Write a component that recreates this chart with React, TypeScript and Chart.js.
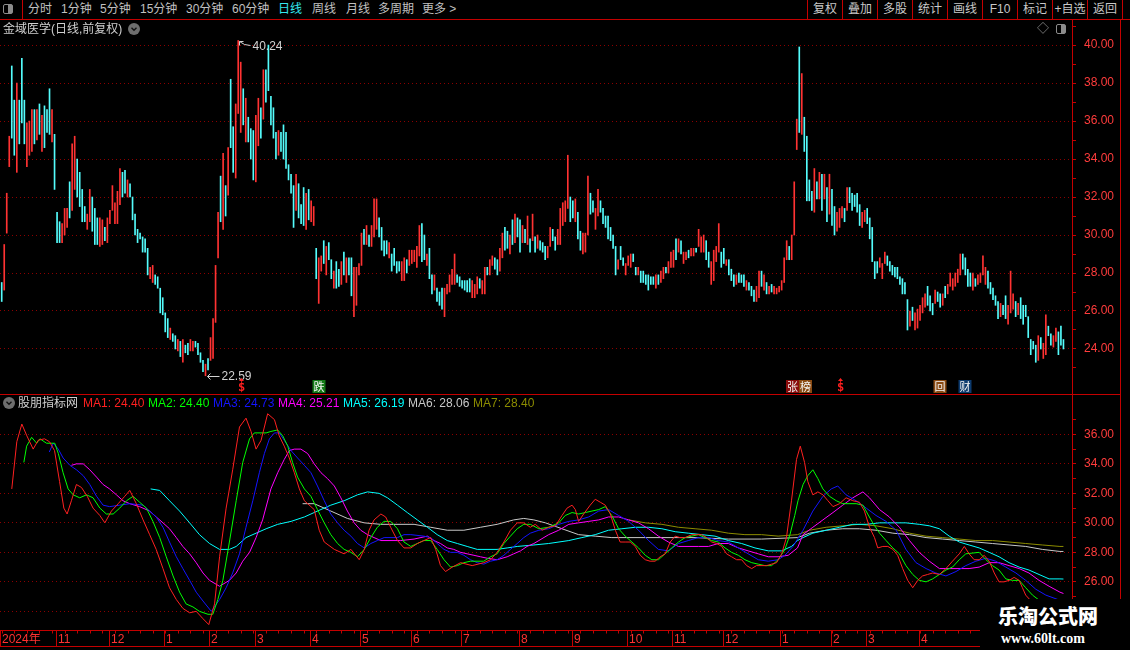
import React, { useEffect, useRef } from 'react';
import { Chart, registerables } from 'chart.js';

Chart.register(...registerables);
Chart.defaults.font.family = '"Liberation Sans", Arial, sans-serif';

// 日K 最高价（估读）
const highs = [
  27.5, 29.5, 32.2, 35.2, 38.9, 37.1, 38.0, 37.1, 39.3, 37.1,
  35.9, 36.0, 36.6, 36.6, 36.6, 36.9, 36.3, 36.8, 36.6, 37.7,
  36.6, 35.3, 31.2, 30.7, 30.6, 31.4, 31.4, 32.8, 34.8, 35.2,
  34.0, 33.3, 32.4, 31.5, 31.1, 32.4, 32.0, 31.4, 30.9, 30.9,
  30.8, 30.4, 30.9, 31.3, 32.6, 31.7, 32.3, 33.5, 33.3, 33.4,
  32.9, 32.7, 32.0, 31.1, 30.3, 30.1, 29.9, 29.8, 29.3, 28.3,
  28.4, 27.9, 27.8, 27.2, 26.7, 25.9, 25.6, 25.1, 24.8, 24.7,
  24.5, 24.4, 24.5, 24.2, 24.3, 24.5, 24.4, 24.4, 24.3, 23.8,
  23.4, 23.2, 23.5, 24.6, 25.6, 28.4, 31.2, 33.1, 34.3, 32.6,
  34.6, 38.2, 35.7, 36.9, 40.24, 39.1, 37.7, 37.2, 36.2, 35.6,
  35.5, 36.3, 37.2, 36.7, 38.7, 38.7, 40.0, 37.3, 36.7, 35.4,
  35.5, 35.4, 35.8, 35.4, 33.7, 33.2, 32.6, 33.2, 32.7, 31.6,
  32.5, 32.2, 32.4, 31.8, 31.5, 29.3, 28.8, 28.9, 29.7, 29.4,
  29.6, 28.7, 28.1, 28.6, 28.2, 28.6, 29.1, 28.8, 28.8, 28.8,
  28.3, 28.3, 28.5, 30.1, 30.3, 30.5, 30.0, 30.5, 31.9, 31.9,
  30.9, 30.4, 29.7, 29.7, 29.6, 29.0, 29.3, 28.6, 28.6, 28.6,
  28.8, 28.7, 29.2, 29.2, 29.2, 29.4, 30.5, 30.6, 30.0, 29.0,
  29.3, 27.9, 27.9, 27.2, 27.0, 27.2, 27.2, 27.4, 27.9, 28.2,
  29.0, 27.9, 27.8, 27.6, 27.6, 27.6, 27.7, 27.6, 27.4, 27.8,
  27.7, 27.6, 28.3, 28.3, 28.7, 28.9, 28.8, 28.7, 29.3, 30.1,
  30.4, 30.2, 30.0, 30.8, 31.1, 30.9, 30.8, 30.5, 30.3, 31.0,
  29.8, 31.1, 29.9, 30.0, 29.7, 29.6, 29.4, 29.4, 30.4, 30.3,
  29.9, 30.3, 31.4, 31.7, 31.8, 34.2, 32.0, 31.8, 31.9, 31.2,
  30.2, 30.1, 30.1, 33.1, 32.2, 31.8, 31.4, 32.4, 31.8, 31.4,
  31.0, 31.0, 30.4, 30.0, 29.4, 28.7, 29.4, 28.8, 28.5, 28.9,
  29.0, 29.0, 28.3, 28.3, 28.1, 28.1, 27.9, 27.9, 27.8, 27.8,
  27.9, 27.9, 28.1, 28.3, 28.3, 28.6, 29.1, 29.2, 29.8, 29.8,
  29.7, 29.1, 29.1, 29.2, 29.3, 29.3, 29.3, 30.3, 29.9, 30.0,
  29.7, 29.1, 28.6, 29.2, 29.4, 30.6, 29.1, 29.3, 28.7, 28.7,
  28.2, 27.9, 27.9, 28.0, 27.9, 27.9, 27.6, 27.5, 27.3, 27.1,
  27.3, 28.1, 28.1, 27.9, 27.5, 27.3, 27.4, 27.3, 27.2, 27.3,
  27.6, 28.8, 29.7, 29.4, 30.0, 32.8, 36.1, 39.9, 38.5,
  36.2, 35.2, 32.9, 32.3, 33.5, 32.8, 33.3, 33.2, 33.2, 32.5,
  33.2, 32.4, 31.5, 31.2, 31.4, 31.5, 31.4, 32.5, 32.5, 32.2,
  32.1, 32.2, 31.6, 31.2, 31.3, 31.4, 30.9, 30.4, 28.6, 28.6,
  28.8, 28.5, 29.1, 28.9, 28.6, 28.4, 28.3, 28.3, 27.8, 27.7,
  27.5, 26.6, 26.0, 26.2, 25.9, 26.1, 26.3, 26.7, 26.9, 27.3,
  26.8, 26.4, 27.1, 27.0, 26.9, 26.9, 27.3, 27.4, 28.0, 27.7,
  28.0, 28.2, 29.0, 29.0, 28.8, 28.2, 28.0, 28.0, 27.7, 27.9,
  28.0, 28.9, 28.3, 28.1, 27.5, 27.2, 26.8, 26.5, 26.4, 26.3,
  26.8, 26.3, 28.1, 26.9, 26.5, 26.4, 26.7, 26.3, 26.3, 25.7,
  24.5, 24.4, 24.2, 24.7, 24.6, 24.3, 25.8, 25.2, 24.8, 24.7,
  25.1, 24.9, 25.2, 24.5,
];

// 日K 最低价（估读）
const lows = [
  26.5, 27.1, 30.1, 33.6, 35.1, 34.2, 33.3, 34.8, 35.9, 34.8,
  33.6, 34.2, 34.4, 34.8, 35.0, 35.3, 34.4, 34.6, 35.4, 35.3,
  34.9, 32.4, 29.6, 29.6, 29.6, 30.0, 30.4, 30.9, 31.3, 32.4,
  32.0, 31.5, 30.7, 30.7, 30.3, 30.7, 30.2, 29.5, 29.5, 29.4,
  29.5, 29.7, 29.6, 30.6, 31.3, 30.6, 30.6, 31.6, 32.0, 32.2,
  32.0, 32.0, 30.8, 30.0, 29.6, 29.8, 29.1, 29.1, 27.9, 27.7,
  27.5, 27.4, 27.2, 25.9, 25.8, 24.9, 24.6, 24.5, 24.4, 24.0,
  23.9, 23.6, 23.3, 23.8, 23.7, 23.9, 23.9, 24.1, 23.7, 23.3,
  22.8, 22.59, 22.9, 23.4, 23.5, 25.4, 28.8, 30.7, 30.3, 31.0,
  32.1, 34.6, 33.3, 33.0, 36.4, 35.4, 35.8, 34.9, 34.9, 34.0,
  32.9, 32.8, 34.7, 35.1, 36.1, 37.0, 37.6, 35.8, 35.1, 34.0,
  34.2, 34.4, 34.0, 33.5, 32.9, 32.2, 30.4, 31.3, 30.9, 30.6,
  30.5, 30.3, 30.8, 30.7, 30.5, 27.7, 26.4, 28.1, 28.5, 27.9,
  28.7, 27.7, 27.2, 27.2, 27.3, 27.4, 27.9, 27.5, 27.9, 26.8,
  25.7, 26.3, 27.9, 28.4, 29.5, 29.5, 29.4, 29.4, 29.9, 30.3,
  29.9, 29.2, 28.9, 29.0, 28.8, 28.1, 28.4, 28.0, 28.1, 27.6,
  27.6, 28.0, 28.4, 28.5, 28.6, 28.3, 28.9, 28.6, 28.7, 28.4,
  27.7, 26.9, 27.1, 26.5, 26.3, 26.1, 25.7, 26.9, 27.0, 27.4,
  27.4, 27.5, 27.3, 27.2, 27.1, 27.0, 27.0, 26.7, 26.7, 26.9,
  27.2, 26.9, 26.9, 27.9, 27.9, 28.4, 28.2, 27.9, 28.1, 28.8,
  29.2, 29.3, 29.0, 29.5, 29.6, 29.9, 29.1, 29.6, 29.6, 29.5,
  29.1, 29.7, 29.1, 29.3, 29.2, 29.1, 28.7, 28.8, 29.4, 29.7,
  29.2, 29.5, 29.5, 30.5, 30.7, 31.4, 30.7, 30.9, 30.7, 29.8,
  29.2, 29.0, 29.1, 30.0, 31.1, 31.2, 30.3, 31.0, 31.2, 30.6,
  30.4, 29.8, 29.7, 29.3, 27.9, 28.2, 28.7, 28.4, 27.9, 28.4,
  28.3, 28.6, 27.9, 27.9, 27.5, 27.5, 27.4, 27.1, 27.4, 27.4,
  27.2, 27.4, 27.5, 27.7, 28.0, 28.0, 28.3, 28.3, 28.7, 29.1,
  29.0, 28.5, 28.7, 28.8, 28.9, 28.9, 29.1, 29.4, 29.1, 29.1,
  28.7, 28.3, 27.4, 27.6, 28.6, 29.1, 28.3, 28.5, 28.4, 27.9,
  27.6, 27.3, 27.4, 27.5, 27.5, 27.3, 27.1, 27.1, 26.8, 26.5,
  26.5, 26.7, 27.3, 27.1, 26.9, 26.9, 27.0, 26.9, 26.9, 27.0,
  27.1, 27.5, 28.7, 28.7, 28.7, 30.0, 34.5, 35.4, 35.3,
  34.4, 31.8, 31.8, 31.3, 31.2, 31.9, 31.9, 31.3, 31.9, 30.7,
  31.1, 30.5, 30.0, 30.2, 30.4, 30.9, 30.7, 31.3, 31.7, 31.3,
  31.5, 31.2, 30.5, 30.4, 30.7, 30.6, 29.8, 28.6, 27.7, 28.0,
  28.3, 27.7, 28.5, 28.4, 28.1, 27.9, 27.8, 27.7, 27.4, 26.9,
  26.9, 25.0, 25.2, 25.5, 25.0, 25.1, 25.5, 25.9, 26.2, 26.3,
  26.0, 25.8, 26.4, 26.5, 26.2, 26.3, 26.7, 26.9, 27.3, 27.1,
  27.3, 27.5, 27.9, 28.2, 27.9, 27.3, 27.3, 27.1, 27.3, 27.4,
  27.5, 27.9, 27.4, 27.2, 26.9, 26.6, 26.3, 25.6, 25.7, 25.8,
  25.6, 25.3, 25.9, 26.1, 25.7, 25.8, 25.6, 25.3, 25.7, 24.6,
  23.7, 24.0, 23.3, 23.4, 24.0, 23.5, 23.7, 24.7, 24.2, 24.1,
  24.4, 23.7, 24.2, 24.0,
];

// r = 阳线(红)  c = 阴线(青)
const candleTone =
  'crrrccrccc' + 'rrrcrcrccc' + 'rcccrrrcrr' + 'ccccrrcccr' + 'rcrrrrrrcc' +
  'rccccccccr' + 'rccccccrcc' + 'rcrccrrccc' + 'crcrrrrcrc' + 'rccrrrcrcc' +
  'crrcrccccc' + 'rccccccrcc' + 'crcrrcrrcr' + 'ccrccrcrcc' + 'rrrrcrcrrr' +
  'ccccrccccr' + 'rcrrrrrccr' + 'ccrcccrrrr' + 'rccccccrrr' + 'crrcrrccrr' +
  'ccrcrccrcr' + 'crcrcccrrc' + 'crrrrrccrc' + 'crrrccrrcc' + 'cccccrccrr' +
  'rccrcccccc' + 'rcrrcrrrcr' + 'crrcrrcrrr' + 'ccrrrrccrc' + 'ccrcccrccc' +
  'rrcrcrcrrr' + 'rrrcrrrcr' + 'ccccrcrcrc' + 'rccrrrcrcc' + 'cccrrccccc' +
  'rrrccccccc' + 'ccrcrrrrrc' + 'ccrccrcrrr' + 'rrrccccrcr' + 'rrrcccccrc' +
  'crrrcrcccc' + 'cccrcrrccr' + 'rccc';
const rise = candleTone.split('').map((c) => c === 'r');

// 月份分隔（K线序号）
const monthLabels = ['11', '12', '1', '2', '3', '4', '5', '6', '7', '8', '9', '10', '11', '12', '1', '2', '3', '4'];
const monthStarts = [22, 43, 65, 83, 101, 123, 143, 163, 183, 206, 227, 249, 267, 287, 310, 330, 344, 365];

const priceTicks = [23, 24, 25, 26, 27, 28, 29, 30, 31, 32, 33, 34, 35, 36, 37, 38, 39, 40, 41];
const indicatorTicks = [23, 24, 25, 26, 27, 28, 29, 30, 31, 32, 33, 34, 35, 36, 37];

// 股朋指标网 MA1..MA7，[K线序号, 数值]
const ma1 = [
  [4, 32.3], [6, 35.5], [8, 36.7], [10, 35.9], [12.5, 35.0], [14.5, 35.6], [17, 35.7], [19, 35.5], [21, 34.9], [23, 32.8],
  [24.7, 31.0], [26, 30.6], [27.7, 31.5], [29.7, 32.6], [31.7, 32.4], [34, 31.8], [36.3, 31.0], [39, 30.5], [41, 30.0], [43.6, 30.8],
  [46.3, 31.3], [48.9, 31.8], [50.9, 32.2], [53.5, 31.3], [56.2, 30.2], [58.8, 29.2], [61.4, 28.2], [64.1, 26.9], [66.7, 25.6], [69.4, 24.8],
  [72, 24.2], [74.7, 23.9], [77.3, 24.0], [80, 23.5], [82.3, 23.1], [84.6, 24.5], [86.6, 27.7], [89.2, 31.0], [91.8, 33.6], [94.5, 36.5],
  [97.1, 37.1], [99.1, 36.2], [101.1, 35.0], [103.1, 35.6], [105.7, 37.4], [108.4, 37.0], [110.3, 35.9], [112.3, 35.2], [114.3, 34.4], [116.3, 33.4],
  [118.3, 32.3], [120.3, 31.5], [124.2, 30.9], [126.2, 29.5], [128.2, 28.7], [132.2, 28.2], [136.1, 27.9], [138.8, 28.2], [142.1, 27.5], [144.1, 28.2],
  [146, 29.5], [148, 30.2], [150.7, 30.6], [152.6, 30.4], [154.6, 29.7], [157.3, 28.8], [159.9, 28.3], [162.6, 28.3], [165.2, 28.6], [167.8, 28.8],
  [170.5, 29.0], [172.5, 28.2], [174.4, 27.1], [176.4, 26.7], [179.1, 27.0], [182.4, 27.3], [187, 27.1], [191.6, 27.3], [194.3, 27.5], [196.9, 28.0],
  [199.6, 28.7], [202.2, 29.5], [204.9, 30.0], [207.5, 30.0], [210.1, 29.7], [212.1, 29.9], [214.8, 29.5], [217.4, 29.7], [220.1, 29.8], [222.7, 30.5],
  [224.7, 31.0], [226.7, 31.2], [228, 30.9], [229.3, 30.1], [231.3, 30.6], [233.9, 31.2], [235.9, 31.6], [237.9, 31.4], [239.9, 31.2], [241.9, 30.6],
  [243.9, 29.5], [245.8, 28.7], [247.8, 28.7], [249.8, 28.7], [251.8, 28.4], [253.8, 27.8], [255.8, 27.5], [257.7, 27.4], [259.7, 27.4], [261.7, 27.7],
  [263.7, 27.9], [265.7, 28.7], [267.7, 29.1], [269.6, 29.0], [271.6, 29.0], [274.3, 29.2], [276.2, 29.2], [278.2, 29.2], [280.2, 29.0], [282.2, 28.7],
  [284.2, 28.6], [286.2, 28.4], [288.1, 27.9], [290.1, 27.7], [292.1, 27.5], [294.1, 27.5], [296.1, 27.1], [298.1, 26.9], [300, 27.1], [304, 27.1],
  [308, 27.3], [310, 27.9], [311.9, 29.0], [313.9, 31.5], [315.9, 34.3], [317.4, 35.2], [319.1, 34.1], [320.4, 32.8], [322.4, 31.9], [324.4, 32.1],
  [326.4, 31.9], [328.4, 31.5], [330.4, 31.1], [333, 31.3], [335.6, 31.7], [338.3, 31.5], [340.9, 31.4], [342.9, 30.8], [344.9, 29.7], [346.9, 29.0],
  [348.2, 28.3], [350.2, 28.4], [352.2, 28.4], [354.2, 28.2], [356.1, 27.8], [358.1, 26.9], [360.1, 26.1], [362.1, 25.6], [364.1, 26.1], [366, 26.4],
  [368, 26.5], [370, 26.6], [372.7, 26.5], [375.3, 26.9], [377.9, 27.4], [380.6, 27.9], [382.6, 28.4], [384.5, 27.9], [386.5, 27.5], [388.5, 27.5],
  [390.5, 27.8], [392.5, 27.4], [394.5, 26.6], [396.4, 26.0], [398.4, 26.0], [400.4, 26.1], [402.4, 26.3], [404.4, 26.1], [405.7, 25.6], [407, 25.1],
  [408.6, 24.8], [412, 24.3], [416, 24.1], [422, 24.4],
];

const ma2 = [
  [8.8, 34.1], [9.9, 35.2], [11.9, 35.8], [13.9, 35.4], [15.2, 35.7], [17.8, 35.4], [21.1, 35.4], [22.5, 34.7], [24.4, 33.4], [26.4, 32.3],
  [28.4, 31.9], [31, 31.7], [33.7, 31.9], [36.3, 31.7], [39, 31.0], [41.6, 30.6], [44.3, 30.6], [46.9, 31.0], [49.6, 31.5], [52.2, 31.8],
  [54.8, 31.4], [57.5, 31.0], [60.1, 30.1], [62.8, 29.0], [65.4, 27.7], [68.1, 26.4], [70.7, 25.3], [73.3, 24.5], [76, 24.3], [78.6, 24.0],
  [82, 23.8], [83.9, 23.8], [85.9, 24.8], [87.9, 26.1], [90.5, 28.7], [93.2, 31.5], [95.8, 34.1], [98.5, 35.7], [100.4, 36.1], [105.1, 36.1],
  [107, 36.2], [109.7, 36.3], [111.7, 35.9], [113.7, 35.2], [115.6, 34.1], [117.6, 33.1], [120.3, 32.3], [122.9, 31.8], [125.5, 30.9], [128.2, 30.0],
  [130.8, 29.2], [133.5, 28.6], [136.1, 28.2], [138.8, 28.0], [141.4, 27.7], [144.1, 28.2], [146.7, 29.0], [149.3, 29.7], [152, 30.1], [154.6, 30.1],
  [157.3, 29.6], [159.9, 28.7], [162.6, 28.4], [165.2, 28.6], [167.8, 28.8], [170.5, 28.8], [173.1, 28.2], [175.8, 27.5], [178.4, 27.0], [181.1, 27.1],
  [183.7, 27.3], [186.3, 27.4], [191.6, 27.4], [194.3, 27.7], [196.9, 27.9], [199.6, 28.6], [202.2, 29.1], [204.9, 29.6], [207.5, 29.9], [210.1, 29.9],
  [213.5, 29.6], [217.4, 29.7], [221.4, 30.0], [224, 30.5], [226.7, 30.7], [229.3, 30.6], [232, 30.7], [234.6, 30.8], [237.3, 30.9], [239.9, 31.1],
  [242.5, 30.5], [245.2, 29.6], [247.8, 29.1], [250.5, 28.7], [253.1, 28.3], [255.8, 27.8], [258.4, 27.5], [261, 27.5], [263.7, 27.9], [266.3, 28.3],
  [269, 28.7], [271.6, 29.0], [274.3, 29.1], [276.9, 29.2], [279.5, 29.0], [282.2, 28.8], [284.8, 28.7], [287.5, 28.3], [290.1, 28.0], [292.8, 27.8],
  [295.4, 27.5], [298.1, 27.3], [300.7, 27.2], [303.3, 27.1], [306, 27.1], [308.6, 27.5], [311.3, 28.2], [313.3, 29.2], [315.2, 30.5], [316.5, 31.5],
  [318.5, 32.6], [320.4, 33.2], [322.4, 33.6], [324.4, 33.0], [326.4, 32.3], [329, 31.8], [331.7, 31.5], [334.3, 31.3], [339.6, 31.3], [342.3, 31.2],
  [344.2, 30.6], [346.2, 30.0], [348.9, 29.3], [351.5, 28.8], [354.2, 28.3], [356.8, 27.9], [359.4, 27.1], [362.1, 26.5], [364.7, 26.1], [367.4, 26.0],
  [370, 26.2], [372.7, 26.5], [375.3, 26.8], [377.9, 27.0], [380.6, 27.5], [383.2, 27.9], [388.5, 28.0], [391.2, 27.5], [393.8, 27.1], [396.4, 26.8],
  [399.1, 26.2], [401.7, 26.1], [404.4, 26.1], [407, 25.6], [409.7, 25.1], [412, 24.8], [416, 24.5], [422, 24.4],
];

const ma3 = [
  [18.9, 34.8], [20.5, 35.4], [22.5, 35.0], [24.4, 34.4], [27.1, 33.9], [29.7, 33.6], [32.4, 33.2], [35, 32.6], [37.7, 31.8], [40.3, 31.2],
  [42.9, 31.1], [46.9, 31.2], [50.9, 31.3], [56.2, 31.2], [58.8, 30.8], [61.4, 30.4], [64.1, 29.7], [66.7, 28.7], [69.4, 27.7], [72, 26.9],
  [74.7, 26.1], [77.3, 25.3], [80, 24.7], [83.3, 24.0], [86.6, 24.8], [89.2, 25.6], [91.8, 26.6], [94.5, 27.9], [97.1, 29.7], [99.8, 31.5],
  [102.4, 33.4], [104.4, 34.7], [106.4, 35.7], [108.4, 36.1], [110.3, 36.1], [112.3, 35.6], [115, 34.9], [117.6, 34.4], [120.3, 33.9], [122.9, 33.4],
  [125.5, 32.5], [128.2, 31.5], [130.8, 30.6], [133.5, 30.0], [136.1, 29.5], [138.8, 29.1], [141.4, 28.6], [144.1, 28.3], [146.7, 28.6], [149.3, 28.8],
  [152, 29.0], [157.3, 29.0], [159.9, 29.2], [162.6, 29.2], [167.8, 29.1], [170.5, 29.0], [173.1, 28.6], [175.8, 28.2], [178.4, 28.0], [181.1, 28.0],
  [183.7, 27.8], [186.3, 27.5], [189, 27.3], [191.6, 27.2], [194.3, 27.4], [196.9, 27.5], [199.6, 27.8], [202.2, 28.2], [204.9, 28.6], [207.5, 29.0],
  [210.1, 29.3], [213.5, 29.5], [217.4, 29.6], [221.4, 29.9], [225.4, 30.1], [229.3, 30.2], [233.3, 30.4], [237.3, 30.8], [241.2, 30.9], [245.2, 30.5],
  [249.2, 30.1], [253.1, 29.5], [257.1, 28.8], [261, 28.2], [265, 28.1], [269, 28.6], [272.9, 28.8], [276.9, 29.0], [280.9, 29.0], [284.8, 28.8],
  [288.8, 28.7], [292.8, 28.3], [296.7, 27.9], [300.7, 27.5], [304.7, 27.4], [308.6, 27.5], [311.3, 27.8], [314.5, 28.4], [318.5, 29.5], [322.4, 30.8],
  [326.4, 31.8], [329.7, 32.3], [332.3, 32.5], [335.6, 31.9], [339.6, 31.5], [343.6, 31.0], [347.5, 30.5], [351.5, 30.1], [355.5, 29.5], [359.4, 28.2],
  [363.4, 27.3], [367.4, 26.9], [371.3, 26.6], [375.3, 26.4], [379.3, 26.7], [383.2, 27.1], [387.2, 27.4], [391.2, 27.6], [395.1, 27.4], [399.1, 27.0],
  [403.1, 26.6], [407, 26.1], [411, 25.5], [415, 25.1], [419.8, 24.8], [422, 24.73],
];

const ma4 = [
  [27.7, 33.9], [29.7, 34.0], [32.4, 34.0], [35, 33.6], [37.7, 33.1], [40.3, 32.6], [42.9, 32.3], [45.6, 31.9], [48.2, 31.5], [50.9, 31.3],
  [54.8, 31.1], [58.8, 30.8], [61.4, 30.4], [64.1, 30.0], [66.7, 29.6], [69.4, 29.0], [72, 28.4], [74.7, 27.9], [77.3, 27.3], [80, 26.6],
  [82.6, 26.1], [86.6, 25.7], [90.5, 26.1], [93.2, 26.6], [95.8, 27.4], [98.5, 28.0], [101.1, 29.0], [103.7, 30.2], [107, 32.3], [109.7, 33.4],
  [112.3, 34.3], [114.3, 34.9], [116.3, 35.0], [118.9, 35.0], [121.6, 34.7], [124.2, 34.0], [126.9, 33.4], [129.5, 33.0], [132.2, 32.5], [134.8, 31.7],
  [137.4, 30.8], [140.1, 30.0], [142.7, 29.5], [145.4, 29.2], [148, 29.0], [150.7, 28.8], [158.6, 28.8], [163.9, 28.9], [169.2, 29.1], [171.8, 28.8],
  [174.4, 28.6], [177.1, 28.3], [179.7, 28.2], [182.4, 28.0], [185, 27.9], [187.7, 27.8], [190.3, 27.7], [193, 27.6], [196.9, 27.5], [200.9, 27.7],
  [203.5, 27.9], [206.2, 28.1], [208.8, 28.4], [211.5, 28.6], [213.5, 28.8], [217.4, 29.2], [221.4, 29.5], [225.4, 29.9], [229.3, 30.0], [233.3, 30.1],
  [237.3, 30.2], [241.2, 30.4], [245.2, 30.4], [249.2, 30.2], [253.1, 30.0], [257.1, 29.6], [261, 29.1], [265, 28.7], [269, 28.4], [276.9, 28.4],
  [280.9, 28.4], [284.8, 28.6], [288.8, 28.6], [292.8, 28.3], [296.7, 28.1], [300.7, 27.9], [304.7, 27.7], [308.6, 27.7], [312.6, 27.8], [316.3, 28.3],
  [318.5, 29.2], [322.4, 29.7], [326.4, 30.2], [330.4, 30.7], [334.3, 31.2], [338.3, 31.7], [342.3, 32.1], [344.9, 31.7], [348.9, 30.9], [352.8, 30.4],
  [356.8, 29.7], [360.8, 28.8], [364.7, 28.0], [368.7, 27.4], [372.7, 26.9], [376.6, 26.9], [384.5, 26.9], [388.5, 27.0], [392.5, 27.3], [396.4, 27.3],
  [400.4, 27.1], [404.4, 26.9], [408.3, 26.6], [412.3, 26.1], [416.3, 25.7], [420.6, 25.3], [422, 25.21],
];

const ma5 = [
  [59.2, 32.3], [62.8, 32.2], [66.7, 31.5], [70.7, 30.8], [74.7, 30.0], [78.6, 29.2], [82.6, 28.6], [86.6, 28.2], [90.5, 28.2], [93.2, 28.4],
  [97.1, 29.0], [101.1, 29.3], [105.1, 29.6], [109.7, 29.9], [115, 30.1], [120.3, 30.4], [125.5, 30.8], [130.8, 31.2], [136.1, 31.5], [141.4, 31.9],
  [145.4, 32.1], [150, 32.0], [153.3, 31.7], [157.3, 31.2], [161.2, 30.7], [165.2, 30.2], [169.2, 29.7], [173.1, 29.2], [177.1, 28.8], [181.1, 28.6],
  [185, 28.4], [189, 28.2], [196.9, 28.2], [200.9, 28.3], [204.9, 28.4], [211.5, 28.5], [217.4, 28.6], [225.4, 28.8], [230.6, 29.0], [235.9, 29.2],
  [241.2, 29.5], [246.5, 29.6], [251.8, 29.7], [257.1, 29.7], [262.4, 29.6], [267.7, 29.4], [272.9, 29.3], [278.2, 29.2], [283.5, 29.1], [288.8, 28.8],
  [294.1, 28.6], [299.4, 28.3], [304.7, 28.1], [310, 28.1], [313.9, 28.4], [316.3, 28.8], [318.5, 29.0], [322.4, 29.3], [327.7, 29.5], [333, 29.7],
  [338.3, 29.9], [343.6, 29.9], [348.9, 30.0], [354.2, 30.0], [359.4, 30.0], [364.7, 29.9], [368.7, 29.8], [372.7, 29.6], [376.6, 29.1], [380.6, 28.7],
  [384.5, 28.5], [388.5, 28.3], [392.5, 28.0], [396.4, 27.7], [400.4, 27.3], [404.4, 27.0], [408.3, 26.8], [412.3, 26.5], [416.3, 26.2], [420.6, 26.2],
  [422, 26.19],
];

const ma6 = [
  [119.6, 31.3], [124.2, 31.3], [130.8, 30.8], [137.4, 30.3], [144.1, 30.0], [150.7, 29.9], [163.9, 29.9], [170.5, 29.7], [177.1, 29.5], [183.7, 29.5],
  [190.3, 29.7], [196.9, 29.9], [203.5, 30.2], [207.5, 30.3], [211.5, 30.2], [216.1, 30.0], [222.7, 29.6], [229.3, 29.2], [235.9, 29.1], [242.5, 29.0],
  [262.4, 29.0], [275.6, 29.0], [288.8, 28.9], [302, 28.9], [316.3, 29.0], [321.1, 29.3], [327.7, 29.5], [334.3, 29.6], [340.9, 29.6], [347.5, 29.5],
  [354.2, 29.3], [360.8, 29.2], [367.4, 29.0], [374, 28.9], [380.6, 28.8], [387.2, 28.7], [393.8, 28.6], [400.4, 28.5], [407, 28.4], [413.6, 28.2],
  [420.6, 28.06], [422, 28.06],
];

const ma7 = [
  [249.2, 30.2], [255.8, 30.0], [262.4, 29.9], [269, 29.7], [275.6, 29.6], [282.2, 29.5], [288.8, 29.3], [295.4, 29.2], [302, 29.2], [308.6, 29.1],
  [316.3, 29.2], [321.1, 29.5], [327.7, 29.7], [334.3, 29.8], [340.9, 29.9], [347.5, 29.8], [354.2, 29.6], [360.8, 29.3], [367.4, 29.1], [374, 29.0],
  [380.6, 28.9], [387.2, 28.8], [393.8, 28.8], [400.4, 28.7], [407, 28.6], [413.6, 28.5], [420.6, 28.4], [422, 28.40],
];

const maSeries = [
  { name: 'MA1', color: '#ff2020', data: ma1 },
  { name: 'MA2', color: '#00ff00', data: ma2 },
  { name: 'MA3', color: '#1414ff', data: ma3 },
  { name: 'MA4', color: '#ff00ff', data: ma4 },
  { name: 'MA5', color: '#00ffff', data: ma5 },
  { name: 'MA6', color: '#c8c8c8', data: ma6 },
  { name: 'MA7', color: '#8c8c00', data: ma7 },
];

// 信息地雷标记（K线序号）
const markers = [
  { i: 95, text: '$', bg: [] as string[] },
  { i: 126, text: '跌', bg: ['#137a17'] },
  { i: 317, text: '张榜', bg: ['#8a0c0c', '#8a4a12'] },
  { i: 333, text: '$', bg: [] as string[] },
  { i: 373, text: '回', bg: ['#8a4a12'] },
  { i: 383, text: '财', bg: ['#0c3a6e'] },
];

const UP = '#ff3232';
const DOWN = '#54fcfc';
const AXIS_RED = '#c40000';
const GRID_RED = '#8c0000';
const LABEL_RED = '#ff3c3c';
const X_MIN = -0.68;
const X_MAX = 425.4;

const sideAxis = (min: number, max: number, ticks: number[], lo: number, hi: number) => ({
  position: 'right' as const,
  min,
  max,
  afterBuildTicks: (s: any) => {
    s.ticks = ticks.map((v) => ({ value: v }));
  },
  afterFit: (s: any) => {
    s.width = 58;
    s.paddingTop = 0;
    s.paddingBottom = 0;
  },
  border: { color: AXIS_RED, width: 1, dash: [1, 3] },
  grid: {
    color: (c: any) =>
      c.tick && c.tick.value % 2 === 0 && c.tick.value >= lo && c.tick.value <= hi ? GRID_RED : 'rgba(0,0,0,0)',
    tickColor: AXIS_RED,
    tickLength: 4,
    tickBorderDash: [],
  },
  ticks: {
    color: LABEL_RED,
    font: { size: 12 },
    padding: 8,
    autoSkip: false,
    callback: (v: any) => (v % 2 === 0 && v >= lo && v <= hi ? Number(v).toFixed(2) : ''),
  },
});

const xAxis = { type: 'linear' as const, min: X_MIN, max: X_MAX, offset: false, display: false };

// 最高/最低价标注 + 信息地雷
const priceNotes = {
  id: 'priceNotes',
  afterDatasetsDraw(chart: any) {
    const { ctx, chartArea, scales } = chart;
    const xs = scales.x;
    const ys = scales.y;
    const hiIdx = highs.indexOf(Math.max(...highs));
    const loIdx = lows.indexOf(Math.min(...lows));
    ctx.save();
    ctx.strokeStyle = '#d2d2d2';
    ctx.fillStyle = '#d2d2d2';
    ctx.lineWidth = 1;
    ctx.font = '12px "Liberation Sans", Arial';
    ctx.textBaseline = 'middle';

    let px = Math.round(xs.getPixelForValue(hiIdx)) + 0.5;
    let py = Math.round(ys.getPixelForValue(highs[hiIdx])) + 0.5;
    ctx.beginPath();
    ctx.moveTo(px + 1, py);
    ctx.lineTo(px + 5, py);
    ctx.moveTo(px + 1, py);
    ctx.lineTo(px + 1, py + 4);
    ctx.moveTo(px + 1, py);
    ctx.lineTo(px + 6, py + 3);
    ctx.lineTo(px + 12, py + 4);
    ctx.stroke();
    ctx.fillText(highs[hiIdx].toFixed(2), px + 14, py + 5);

    px = Math.round(xs.getPixelForValue(loIdx)) + 0.5;
    py = Math.round(ys.getPixelForValue(lows[loIdx])) + 0.5;
    ctx.beginPath();
    ctx.moveTo(px + 1, py);
    ctx.lineTo(px + 13, py);
    ctx.moveTo(px + 1, py);
    ctx.lineTo(px + 4, py - 3);
    ctx.moveTo(px + 1, py);
    ctx.lineTo(px + 4, py + 3);
    ctx.stroke();
    ctx.fillText(lows[loIdx].toFixed(2), px + 15, py);

    const cy = chartArea.bottom - 8;
    markers.forEach((m) => {
      const cx = Math.round(xs.getPixelForValue(m.i));
      if (m.bg.length === 0) {
        ctx.fillStyle = '#ff2020';
        ctx.font = 'bold 12px "DejaVu Sans Mono", monospace';
        ctx.textAlign = 'center';
        ctx.fillText(m.text, cx + 0.5, cy + 2);
        ctx.beginPath();
        ctx.moveTo(cx - 2, cy - 5);
        ctx.lineTo(cx + 0.5, cy - 8);
        ctx.lineTo(cx + 3, cy - 5);
        ctx.closePath();
        ctx.fill();
        return;
      }
      const chars = m.text.split('');
      const w = 13;
      const left = cx - (w * chars.length) / 2;
      chars.forEach((ch, k) => {
        ctx.fillStyle = m.bg[k];
        ctx.fillRect(left + k * w, cy - 6, w, 13);
        ctx.fillStyle = '#f4f4f4';
        ctx.font = '11px "Noto Sans CJK SC"';
        ctx.textAlign = 'center';
        ctx.fillText(ch, left + k * w + w / 2, cy + 1);
      });
    });
    ctx.restore();
  },
};

// 底部日期轴
const dateAxis = {
  id: 'dateAxis',
  afterDraw(chart: any) {
    const { ctx, chartArea, scales } = chart;
    const xs = scales.x;
    const top = Math.round(chartArea.bottom) + 2.5;
    const h = 16;
    ctx.save();
    ctx.strokeStyle = AXIS_RED;
    ctx.lineWidth = 1;
    ctx.beginPath();
    ctx.moveTo(0, top);
    ctx.lineTo(chartArea.right, top);
    ctx.moveTo(0, top + h);
    ctx.lineTo(chartArea.right, top + h);
    ctx.moveTo(0.5, top);
    ctx.lineTo(0.5, top + h);
    for (let i = 0; i < highs.length; i += 5) {
      const px = Math.round(xs.getPixelForValue(i)) + 0.5;
      ctx.moveTo(px, top);
      ctx.lineTo(px, top + 3);
    }
    monthStarts.forEach((m) => {
      const px = Math.round(xs.getPixelForValue(m - 0.5)) + 0.5;
      ctx.moveTo(px, top);
      ctx.lineTo(px, top + h);
    });
    ctx.stroke();
    ctx.fillStyle = '#ff3232';
    ctx.font = '12px "Liberation Sans", "Noto Sans CJK SC"';
    ctx.textBaseline = 'middle';
    ctx.fillText('2024年', 2, top + h / 2 + 1);
    monthStarts.forEach((m, k) => {
      ctx.fillText(monthLabels[k], Math.round(xs.getPixelForValue(m - 0.5)) + 2, top + h / 2 + 1);
    });
    ctx.restore();
  },
};

const periodTabs = ['分时', '1分钟', '5分钟', '15分钟', '30分钟', '60分钟', '日线', '周线', '月线', '多周期', '更多 >'];
const periodLefts = [28, 61, 100, 140, 186, 232, 278, 312, 346, 378, 422];
const toolButtons = ['复权', '叠加', '多股', '统计', '画线', 'F10', '标记', '+自选', '返回'];

const FONT = '"Liberation Sans", "Noto Sans CJK SC", sans-serif';

const PanelIcon: React.FC<{ left: number; top: number }> = ({ left, top }) => (
  <div
    style={{
      position: 'absolute', left, top, width: 8, height: 8, border: '1px solid #8c8c8c', borderRadius: 2,
      background: 'linear-gradient(90deg, transparent 50%, #8c8c8c 50%)',
    }}
  />
);

const DotMenu: React.FC<{ left: number; top: number }> = ({ left, top }) => (
  <svg style={{ position: 'absolute', left, top }} width={12} height={12} viewBox="0 0 12 12">
    <circle cx={6} cy={6} r={6} fill="#6e6e6e" />
    <polyline points="3.5,4.8 6,7.3 8.5,4.8" fill="none" stroke="#111" strokeWidth={1.4} />
  </svg>
);

const App: React.FC = () => {
  const priceRef = useRef<HTMLCanvasElement>(null);
  const maRef = useRef<HTMLCanvasElement>(null);

  useEffect(() => {
    if (!priceRef.current || !maRef.current) return;

    const priceChart = new Chart(priceRef.current, {
      type: 'bar',
      data: {
        datasets: [
          {
            data: highs.map((h, i) => ({ x: i, y: [lows[i], h] })) as any,
            backgroundColor: rise.map((r) => (r ? UP : DOWN)),
            barThickness: 1,
            borderWidth: 0,
          },
        ],
      },
      options: {
        animation: false,
        responsive: false,
        layout: { padding: 0 },
        plugins: { legend: { display: false }, tooltip: { enabled: false } },
        scales: {
          x: xAxis,
          y: sideAxis(21.63, 41.32, priceTicks, 24, 40),
        } as any,
      },
      plugins: [priceNotes],
    });

    const maChart = new Chart(maRef.current, {
      type: 'line',
      data: {
        datasets: maSeries.map((s) => ({
          label: s.name,
          data: s.data.map(([x, y]) => ({ x, y })),
          borderColor: s.color,
          borderWidth: 1,
          pointRadius: 0,
          tension: 0,
        })),
      },
      options: {
        animation: false,
        responsive: false,
        layout: { padding: { top: 0, bottom: 22, left: 0, right: 0 } },
        plugins: { legend: { display: false }, tooltip: { enabled: false } },
        scales: {
          x: xAxis,
          y: sideAxis(22.87, 38.67, indicatorTicks, 24, 36),
        } as any,
      },
      plugins: [dateAxis],
    });

    return () => {
      priceChart.destroy();
      maChart.destroy();
    };
  }, []);

  return (
    <div
      style={{
        position: 'fixed', left: 0, top: 0, width: 1130, height: 650, background: '#000',
        overflow: 'hidden', fontFamily: FONT, fontSize: 12, color: '#c8c8c8',
      }}
    >
      {/* 顶部工具栏 */}
      <div style={{ position: 'absolute', left: 0, top: 19, width: 1130, height: 1, background: AXIS_RED }} />
      <div style={{ position: 'absolute', left: 22, top: 0, width: 1, height: 19, background: AXIS_RED }} />
      <PanelIcon left={3} top={4} />
      {periodTabs.map((t, k) => (
        <div
          key={t}
          style={{
            position: 'absolute', left: periodLefts[k], top: 0, lineHeight: '19px', whiteSpace: 'nowrap',
            color: t === '日线' ? '#35e8f0' : '#c0c0c0',
          }}
        >
          {t}
        </div>
      ))}
      {toolButtons.map((t, k) => (
        <div
          key={t}
          style={{
            position: 'absolute', left: 807 + k * 35, top: 0, width: 35, height: 19, lineHeight: '19px',
            textAlign: 'center', borderLeft: `1px solid ${AXIS_RED}`, color: '#c8c8c8', boxSizing: 'border-box',
          }}
        >
          {t}
        </div>
      ))}
      <div style={{ position: 'absolute', left: 1122, top: 0, width: 1, height: 19, background: AXIS_RED }} />

      <canvas ref={priceRef} width={1130} height={374} style={{ position: 'absolute', left: 0, top: 20 }} />

      {/* 标题行 */}
      <div style={{ position: 'absolute', left: 3, top: 20, lineHeight: '19px', whiteSpace: 'nowrap', color: '#cfcfcf' }}>
        金域医学(日线,前复权)
      </div>
      <DotMenu left={128} top={23} />
      <div style={{ position: 'absolute', left: 1037, top: 20, lineHeight: '19px', color: '#8c8c8c', fontSize: 12 }}>◇</div>
      <PanelIcon left={1056} top={24} />

      <div style={{ position: 'absolute', left: 0, top: 394, width: 1120, height: 1, background: AXIS_RED }} />
      <div style={{ position: 'absolute', left: 1120, top: 20, width: 1, height: 580, background: AXIS_RED }} />

      <canvas ref={maRef} width={1130} height={255} style={{ position: 'absolute', left: 0, top: 395 }} />

      {/* 指标标题行 */}
      <DotMenu left={3} top={397} />
      <div style={{ position: 'absolute', left: 18, top: 395, lineHeight: '17px', fontSize: 12, color: '#cfcfcf' }}>股朋指标网</div>
      {maSeries.map((s, k) => (
        <div
          key={s.name}
          style={{
            position: 'absolute', left: 83 + k * 65, top: 395, lineHeight: '17px', whiteSpace: 'nowrap', color: s.color,
          }}
        >
          {`${s.name}: ${s.data[s.data.length - 1][1].toFixed(2)}`}
        </div>
      ))}

      {/* 水印 */}
      <div style={{ position: 'absolute', left: 980, top: 599, width: 150, height: 51, background: '#000' }}>
        <div
          style={{
            position: 'absolute', left: 18, top: 5, fontSize: 20, lineHeight: '24px', fontWeight: 900,
            color: '#fff', fontFamily: '"Noto Sans CJK SC", sans-serif', whiteSpace: 'nowrap',
          }}
        >
          乐淘公式网
        </div>
        <div
          style={{
            position: 'absolute', left: 21, top: 32, fontSize: 14, lineHeight: '16px', fontWeight: 700,
            color: '#fff', fontFamily: '"Liberation Serif", serif', whiteSpace: 'nowrap',
          }}
        >
          www.60lt.com
        </div>
      </div>
    </div>
  );
};

export default App;
